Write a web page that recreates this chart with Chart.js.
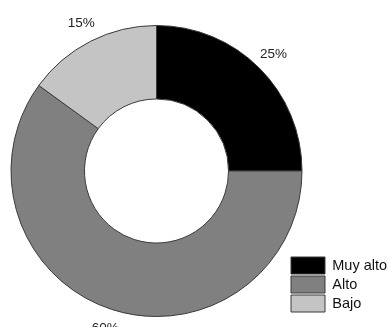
<!DOCTYPE html>
<html lang="es">
<head>
    <meta charset="UTF-8">
    <title>Nivel</title>
    <script src="https://cdn.jsdelivr.net/npm/chart.js"></script>
    <style>
        html, body { margin: 0; padding: 0; background: #fff; }
        .chart-container { position: relative; width: 388px; height: 327px; }
    </style>
</head>
<body>
    <div class="chart-container">
        <canvas id="nivelChart"></canvas>
    </div>
    <script>
        const categorias = ['Muy alto', 'Alto', 'Bajo'];
        const porcentajes = [25, 60, 15];
        const colores = ['#000000', '#808080', '#c4c4c4'];

        // etiquetas de porcentaje fuera del anillo, en el ángulo medio de cada sector
        const etiquetasPct = {
            id: 'etiquetasPct',
            afterDatasetsDraw(chart) {
                const ctx = chart.ctx;
                const arcs = chart.getDatasetMeta(0).data;
                ctx.save();
                ctx.font = '13.5px "Liberation Sans", Arial, sans-serif';
                ctx.fillStyle = '#222';
                ctx.textAlign = 'center';
                ctx.textBaseline = 'middle';
                arcs.forEach((arc, i) => {
                    const p = arc.getProps(['x', 'y', 'startAngle', 'endAngle', 'outerRadius'], true);
                    const mid = (p.startAngle + p.endAngle) / 2;
                    const r = p.outerRadius + 20;
                    ctx.fillText(porcentajes[i] + '%', p.x + Math.cos(mid) * r, p.y + Math.sin(mid) * r);
                });
                ctx.restore();
            }
        };

        // mueve la leyenda a la esquina inferior derecha
        const leyendaAbajo = {
            id: 'leyendaAbajo',
            afterLayout(chart) {
                const lg = chart.legend;
                lg.left = 289;
                lg.top = 255;
                lg.right = 388;
                lg.bottom = 320;
            }
        };

        const ctx = document.getElementById('nivelChart').getContext('2d');
        const nivelChart = new Chart(ctx, {
            type: 'doughnut',
            data: {
                labels: categorias,
                datasets: [{
                    data: porcentajes,
                    backgroundColor: colores,
                    borderColor: '#3a3a3a',
                    borderWidth: 1
                }]
            },
            options: {
                responsive: true,
                maintainAspectRatio: false,
                animation: false,
                cutout: '49.5%',
                layout: {
                    padding: { left: 10, right: 85, top: 25, bottom: 10 }
                },
                plugins: {
                    legend: {
                        position: 'chartArea',
                        align: 'start',
                        labels: {
                            boxWidth: 34,
                            boxHeight: 17,
                            padding: 2,
                            color: '#111',
                            font: { family: '"Liberation Sans", Arial, sans-serif', size: 14.5 }
                        }
                    },
                    tooltip: { enabled: false }
                }
            },
            plugins: [etiquetasPct, leyendaAbajo]
        });
    </script>
</body>
</html>
